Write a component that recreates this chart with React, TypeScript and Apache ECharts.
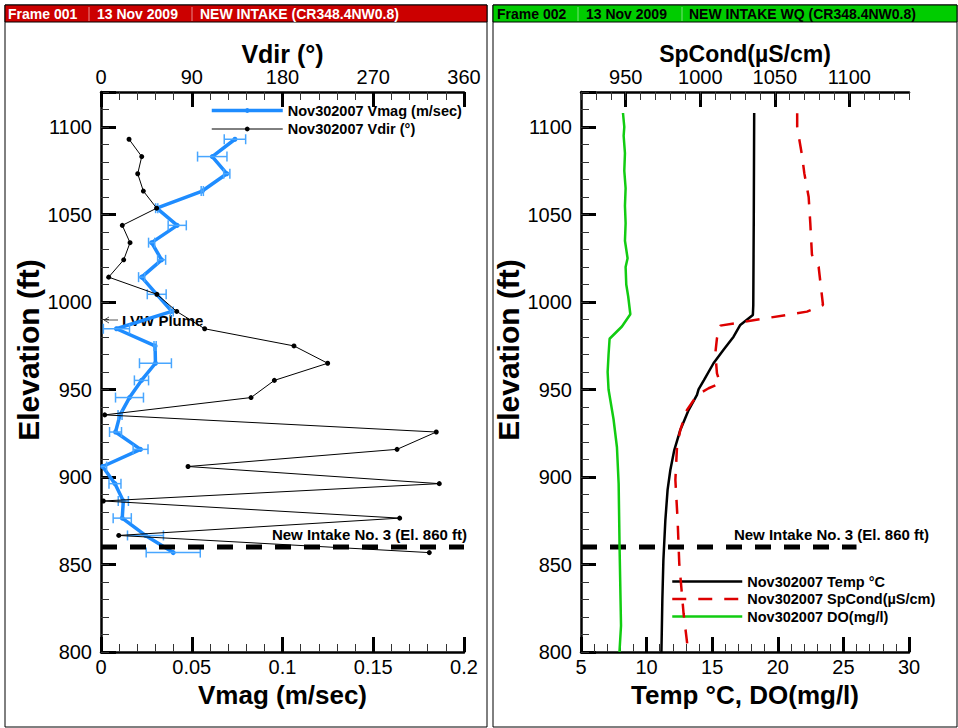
import React, { useEffect, useRef } from "react";
import * as echarts from "echarts";

// ---------- Frame 001 : ADCP velocity profile ----------
const ELEV = [1093.0, 1083.1, 1073.3, 1063.4, 1053.6, 1043.8, 1033.9, 1024.1, 1014.2, 1004.4, 994.6, 984.7, 974.9, 965.0, 955.2, 945.4, 935.5, 925.7, 915.8, 906.0, 896.2, 886.3, 876.5, 866.6, 856.8];
const VMAG = [0.0738, 0.0613, 0.0693, 0.0558, 0.0307, 0.042, 0.0279, 0.0334, 0.0224, 0.0307, 0.039, 0.0085, 0.0298, 0.030, 0.0223, 0.0157, 0.0105, 0.008, 0.0218, 0.0009, 0.0077, 0.0123, 0.0117, 0.0245, 0.0398];
const VMAG_ERR = [0.0059, 0.0081, 0.0017, 0.0006, 0.0006, 0.005, 0.0017, 0.0022, 0.0017, 0.0052, 0.0008, 0.0072, 0.0006, 0.0088, 0.0039, 0.0077, 0.0011, 0.0033, 0.0041, 0.0022, 0.0033, 0.0028, 0.005, 0.0099, 0.0149];
const VDIR = [27.8, 40.4, 36.4, 42.0, 55.2, 21.1, 28.8, 22.5, 7.6, 55.5, 75.1, 102.8, 191.4, 224.8, 171.9, 148.8, 3.7, 332.5, 293.6, 86.3, 335.5, 2.3, 296.2, 17.6, 325.6];

// ---------- Frame 002 : water quality profile ----------
const TEMP_ELEV = [1108, 1050, 998, 992.6, 986.9, 980.2, 972.6, 965, 955.4, 950.1, 946.9, 937.7, 926.9, 915.4, 904, 892.6, 875.4, 852.6, 829.7, 800];
const TEMP = [18.2, 18.17, 18.13, 18.1, 17.14, 16.63, 15.85, 15.1, 14.37, 13.96, 13.84, 13.17, 12.57, 12.11, 11.81, 11.6, 11.43, 11.28, 11.2, 11.13];

const COND_ELEV = [1107.8, 1100, 1084, 1073.5, 1060, 1045, 1027, 1020, 998.3, 994.5, 986.5, 979.3, 970.7, 959.2, 953.5, 950.7, 946.9, 938.3, 926.9, 917.3, 898.3, 875.4, 850.7, 822, 803, 800];
const COND = [1065, 1065, 1068.2, 1069.8, 1072.7, 1073.8, 1074.9, 1079.4, 1082.3, 1071.6, 1013.4, 1011.2, 1010.1, 1011.2, 1013.4, 1005.6, 998, 991.1, 986.6, 984.4, 983.3, 984.8, 985.9, 988.8, 991.5, 991.8];

const DO_ELEV = [1108, 1100, 1095, 1085, 1075, 1065, 1055, 1045, 1035, 1025, 1020, 1010, 1003, 993, 986, 979, 970, 960, 950, 933, 917, 896, 860, 815, 801, 800];
const DO = [8.2, 8.3, 8.25, 8.35, 8.3, 8.4, 8.35, 8.4, 8.35, 8.55, 8.4, 8.45, 8.6, 8.76, 8.12, 7.18, 7.1, 7.03, 7.1, 7.48, 7.74, 7.87, 7.94, 8.05, 7.94, 7.94];

const INTAKE_ELEV = 860;
const LEFT_INTAKE_SPAN = [0, 0.2];
const RIGHT_INTAKE_SPAN = [5, 26];
const COND_TICKS = [950, 1000, 1050, 1100];

const NAMES = {
  vmag: "Nov302007 Vmag (m/sec)",
  vdir: "Nov302007 Vdir (\u00b0)",
  temp: "Nov302007 Temp \u00b0C",
  cond: "Nov302007 SpCond(\u00b5S/cm)",
  dox: "Nov302007 DO(mg/l)",
};

const FONT = '"Liberation Sans", Arial, Helvetica, sans-serif';
const BLUE = "#1e8cff";
const ERR_BLUE = "#48a6ff";
const RED = "#dd0000";
const GREEN = "#11cc11";

const majorTick = { show: true, inside: true, length: 15, lineStyle: { color: "#000", width: 3 } };
const minorTickStyle = { show: true, inside: true, length: 8, lineStyle: { color: "#333", width: 1 } };
const axisLine = { show: true, lineStyle: { color: "#000", width: 2.5 } };
const tickLabel = { color: "#000", fontSize: 20, fontFamily: FONT };
const nameStyle = { color: "#000", fontSize: 25, fontWeight: "bold", fontFamily: FONT };

function yAxesFor(gridIndex: number, gap: number) {
  return [
    {
      type: "value", gridIndex, position: "left", min: 800, max: 1120, interval: 50,
      axisLine, axisTick: majorTick, splitLine: { show: false },
      axisLabel: { ...tickLabel, margin: 9, formatter: (v: number) => (v > 1100 ? "" : String(v)) },
      name: "Elevation (ft)", nameLocation: "middle", nameGap: gap, nameRotate: 90,
      nameTextStyle: { ...nameStyle, fontSize: 30, padding: [0, 0, 0, 44] },
    },
    {
      type: "value", gridIndex, position: "left", min: 800, max: 1120, interval: 10,
      axisLine: { show: false }, axisTick: minorTickStyle, axisLabel: { show: false }, splitLine: { show: false },
    },
  ];
}

export default function App() {
  const ref = useRef<HTMLDivElement>(null);

  useEffect(() => {
    if (!ref.current) return;
    const chart = echarts.init(ref.current, null, { renderer: "svg" });

    const headerText = (text: string, x: number, fill: string) => ({
      type: "text", x, y: 14, silent: true,
      style: { text, fill, fontSize: 14, fontWeight: "bold", fontFamily: FONT, verticalAlign: "middle", align: "left" },
    });
    const sep = (x: number, stroke: string) => ({
      type: "line", silent: true, shape: { x1: x, y1: 7, x2: x, y2: 21 }, style: { stroke, lineWidth: 1 },
    });
    const legendText = { color: "#000", fontSize: 14.5, fontWeight: "bold", fontFamily: FONT };

    const option: any = {
      animation: false,
      textStyle: { fontFamily: FONT },
      grid: [
        { left: 101, top: 92, width: 363, height: 560, containLabel: false },
        { left: 581, top: 92, width: 328, height: 560, containLabel: false },
      ],
      xAxis: [
        {
          type: "value", gridIndex: 0, position: "bottom", min: 0, max: 0.2, interval: 0.05,
          axisLine, axisTick: majorTick, minorTick: { ...minorTickStyle, splitNumber: 5 }, splitLine: { show: false }, minorSplitLine: { show: false },
          axisLabel: { ...tickLabel, margin: 5 },
          name: "Vmag (m/sec)", nameLocation: "middle", nameGap: 27, nameTextStyle: { ...nameStyle, fontSize: 26 },
        },
        {
          type: "value", gridIndex: 0, position: "top", min: 0, max: 360, interval: 90,
          axisLine, axisTick: majorTick, minorTick: { ...minorTickStyle, splitNumber: 5 }, splitLine: { show: false },
          axisLabel: { ...tickLabel, margin: 5 },
          name: "Vdir (\u00b0)", nameLocation: "middle", nameGap: 26, nameMoveOverlap: false, nameTextStyle: nameStyle,
        },
        {
          type: "value", gridIndex: 1, position: "bottom", min: 5, max: 30, interval: 5,
          axisLine, axisTick: majorTick, minorTick: { ...minorTickStyle, splitNumber: 5 }, splitLine: { show: false },
          axisLabel: { ...tickLabel, margin: 5 },
          name: "Temp \u00b0C, DO(mg/l)", nameLocation: "middle", nameGap: 27, nameTextStyle: { ...nameStyle, fontSize: 26 },
        },
        {
          type: "value", gridIndex: 1, position: "top", min: 920, max: 1140,
          axisLine, axisTick: { ...majorTick, customValues: COND_TICKS }, splitLine: { show: false },
          axisLabel: { ...tickLabel, margin: 5, customValues: COND_TICKS, formatter: (v: number) => (v === 920 || v === 1140 ? "" : String(v)) },
          name: "SpCond(\u00b5S/cm)", nameLocation: "middle", nameGap: 27, nameMoveOverlap: false, nameTextStyle: { ...nameStyle, fontSize: 23 },
        },
        {
          type: "value", gridIndex: 1, position: "top", min: 920, max: 1140, interval: 10,
          axisLine: { show: false }, axisTick: minorTickStyle, axisLabel: { show: false }, splitLine: { show: false },
        },
      ],
      yAxis: [...yAxesFor(0, 54), ...yAxesFor(1, 53)],
      legend: [
        {
          data: [
            { name: NAMES.vmag, lineStyle: { width: 3.5 } },
            { name: NAMES.vdir, lineStyle: { width: 1 } },
          ],
          orient: "vertical", left: 210, top: 103, padding: 0,
          itemWidth: 71, itemHeight: 6, itemGap: 3.5, selectedMode: false,
          textStyle: legendText,
        },
        {
          data: [
            { name: NAMES.temp, lineStyle: { width: 2.5 }, itemStyle: { opacity: 0 } },
            { name: NAMES.cond, lineStyle: { width: 2.5, type: [14, 12] }, itemStyle: { opacity: 0 } },
            { name: NAMES.dox, lineStyle: { width: 2.5 }, itemStyle: { opacity: 0 } },
          ],
          orient: "vertical", left: 671, top: 574, padding: 0,
          itemWidth: 70, itemHeight: 6, itemGap: 2.5, selectedMode: false,
          textStyle: legendText,
        },
      ],
      series: [
        {
          name: NAMES.vmag, type: "line", xAxisIndex: 0, yAxisIndex: 0,
          data: ELEV.map((e, i) => [VMAG[i], e]),
          symbol: "circle", symbolSize: 5, itemStyle: { color: BLUE }, lineStyle: { color: BLUE, width: 3.5 }, z: 2,
        },
        {
          name: "vmagErr", type: "custom", xAxisIndex: 0, yAxisIndex: 0, clip: true, z: 3,
          dimensions: ["v", "e", "err"], encode: { x: 0, y: 1 },
          data: ELEV.map((e, i) => [VMAG[i], e, VMAG_ERR[i]]),
          renderItem: (_p: any, api: any) => {
            const x = api.value(0), y = api.value(1), err = api.value(2);
            const a = api.coord([x - err, y]);
            const b = api.coord([x + err, y]);
            const h = 5;
            const style = { stroke: ERR_BLUE, lineWidth: 1.5, fill: null };
            return {
              type: "group",
              children: [
                { type: "line", shape: { x1: a[0], y1: a[1], x2: b[0], y2: b[1] }, style },
                { type: "line", shape: { x1: a[0], y1: a[1] - h, x2: a[0], y2: a[1] + h }, style },
                { type: "line", shape: { x1: b[0], y1: b[1] - h, x2: b[0], y2: b[1] + h }, style },
              ],
            };
          },
        },
        {
          name: NAMES.vdir, type: "line", xAxisIndex: 1, yAxisIndex: 0,
          data: ELEV.map((e, i) => [VDIR[i], e]),
          symbol: "circle", symbolSize: 5, itemStyle: { color: "#000" }, lineStyle: { color: "#000", width: 1 }, z: 4,
        },
        {
          name: "intakeL", type: "line", xAxisIndex: 0, yAxisIndex: 0, silent: true, z: 5,
          data: LEFT_INTAKE_SPAN.map((v) => [v, INTAKE_ELEV]),
          symbol: "none", lineStyle: { color: "#000", width: 5, type: [16, 13] },
        },
        {
          name: "intakeR", type: "line", xAxisIndex: 2, yAxisIndex: 2, silent: true, z: 1,
          data: RIGHT_INTAKE_SPAN.map((v) => [v, INTAKE_ELEV]),
          symbol: "none", lineStyle: { color: "#000", width: 5, type: [16, 13] },
        },
        {
          name: NAMES.dox, type: "line", xAxisIndex: 2, yAxisIndex: 2, z: 2,
          data: DO_ELEV.map((e, i) => [DO[i], e]),
          symbol: "none", itemStyle: { color: GREEN }, lineStyle: { color: GREEN, width: 2.5 },
        },
        {
          name: NAMES.temp, type: "line", xAxisIndex: 2, yAxisIndex: 2, z: 3,
          data: TEMP_ELEV.map((e, i) => [TEMP[i], e]),
          symbol: "none", itemStyle: { color: "#000" }, lineStyle: { color: "#000", width: 2.5 },
        },
        {
          name: NAMES.cond, type: "line", xAxisIndex: 3, yAxisIndex: 2, z: 4,
          data: COND_ELEV.map((e, i) => [COND[i], e]),
          symbol: "none", itemStyle: { color: RED }, lineStyle: { color: RED, width: 2.5, type: [14, 12] },
        },
      ],
      graphic: [
        { type: "rect", silent: true, shape: { x: 5, y: 5, width: 482, height: 722 }, style: { fill: "none", stroke: "#000", lineWidth: 1 } },
        { type: "rect", silent: true, shape: { x: 5, y: 5, width: 482, height: 17 }, style: { fill: "#cc0000", stroke: "#000", lineWidth: 1 } },
        sep(89, "#e88a8a"), sep(192, "#e88a8a"),
        headerText("Frame 001", 8, "#fff"),
        headerText("13 Nov 2009", 97, "#fff"),
        headerText("NEW INTAKE (CR348.4NW0.8)", 200, "#fff"),
        { type: "rect", silent: true, shape: { x: 493, y: 5, width: 464, height: 722 }, style: { fill: "none", stroke: "#000", lineWidth: 1 } },
        { type: "rect", silent: true, shape: { x: 493, y: 5, width: 464, height: 17 }, style: { fill: "#00cc00", stroke: "#000", lineWidth: 1 } },
        sep(578, "#7ae07a"), sep(682, "#7ae07a"),
        headerText("Frame 002", 497, "#000"),
        headerText("13 Nov 2009", 586, "#000"),
        headerText("NEW INTAKE WQ (CR348.4NW0.8)", 689, "#000"),
        // annotations
        { type: "line", silent: true, shape: { x1: 118, y1: 320, x2: 104, y2: 320 }, style: { stroke: "#555", lineWidth: 1 } },
        { type: "polyline", silent: true, shape: { points: [[109, 317], [104, 320], [109, 323]] }, style: { stroke: "#555", lineWidth: 1, fill: "none" } },
        { type: "text", silent: true, x: 122, y: 320, style: { text: "LVW Plume", fill: "#000", fontSize: 15, fontWeight: "bold", fontFamily: FONT, verticalAlign: "middle", align: "left" } },
        { type: "text", silent: true, x: 467, y: 534, style: { text: "New Intake No. 3 (El. 860 ft)", fill: "#000", fontSize: 15, fontWeight: "bold", fontFamily: FONT, verticalAlign: "middle", align: "right" } },
        { type: "text", silent: true, x: 929, y: 534, style: { text: "New Intake No. 3 (El. 860 ft)", fill: "#000", fontSize: 15, fontWeight: "bold", fontFamily: FONT, verticalAlign: "middle", align: "right" } },
      ],
    };

    chart.setOption(option);
    return () => chart.dispose();
  }, []);

  return (
    <div
      ref={ref}
      style={{ position: "absolute", left: 0, top: 0, width: 958, height: 728, background: "#fff" }}
    />
  );
}
